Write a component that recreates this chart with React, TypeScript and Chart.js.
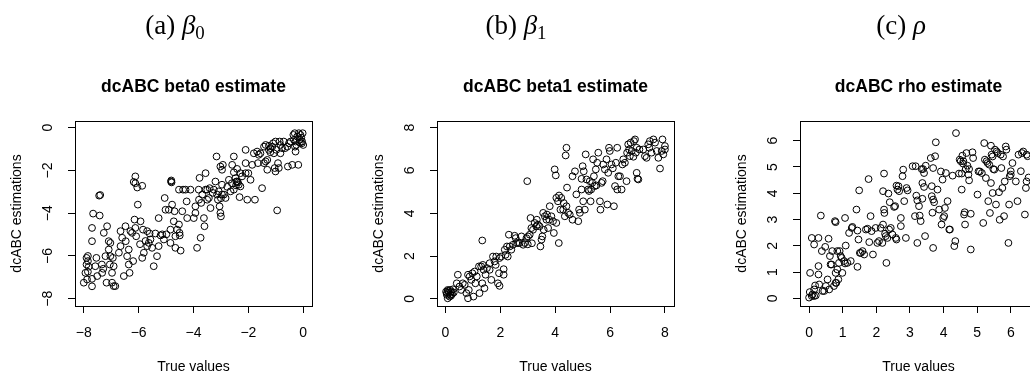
import React, { useEffect, useRef } from "react";
import { Chart, registerables } from "chart.js";

Chart.register(...registerables);

const SANS = "'Liberation Sans', Arial, Helvetica, sans-serif";
const SERIF = "'Liberation Serif', 'Times New Roman', serif";

// (true value, dcABC estimate) pairs for the intercept beta0
const beta0Points: [number, number][] = [
  [-8.0, -7.25], [-7.94, -6.79], [-7.9, -6.4], [-7.9, -6.09], [-7.85, -6.0], [-7.85, -6.24],
  [-7.82, -6.5], [-7.85, -6.74], [-7.88, -7.1], [-7.7, -7.07], [-7.7, -7.42], [-7.54, -6.09],
  [-7.58, -6.48], [-7.51, -6.94], [-7.7, -4.69], [-7.7, -5.31], [-7.66, -4.02], [-7.42, -4.11],
  [-7.44, -3.18], [-7.4, -3.15], [-7.34, -6.4], [-7.33, -6.79], [-7.29, -6.6], [-7.27, -4.92],
  [-7.21, -6.01], [-7.17, -7.25], [-7.15, -4.61], [-7.09, -5.31], [-7.09, -5.7], [-7.03, -5.39],
  [-7.05, -6.4], [-7.03, -6.01], [-6.97, -7.25], [-6.91, -7.41], [-6.85, -7.41], [-6.97, -6.79],
  [-6.91, -6.48], [-6.94, -6.09], [-6.72, -5.85], [-6.66, -5.54], [-6.66, -4.84], [-6.6, -5.15],
  [-6.54, -6.94], [-6.48, -4.61], [-6.47, -5.31], [-6.42, -6.01], [-6.36, -5.7], [-6.36, -6.4],
  [-6.33, -6.79], [-6.3, -4.84], [-6.24, -4.92], [-6.2, -6.24], [-6.12, -2.6], [-6.18, -2.54],
  [-6.12, -2.28], [-6.05, -2.8], [-6.15, -4.3], [-6.12, -4.69], [-6.09, -5.08], [-6.03, -3.6],
  [-5.93, -4.38], [-5.87, -2.72], [-5.95, -5.45], [-5.87, -6.09], [-5.81, -5.85], [-5.84, -4.77],
  [-5.75, -5.3], [-5.69, -5.54], [-5.69, -4.84], [-5.63, -5.39], [-5.57, -5.23], [-5.6, -4.95],
  [-5.51, -5.62], [-5.45, -6.48], [-5.39, -4.95], [-5.33, -6.01], [-5.27, -4.23], [-5.27, -5.54],
  [-5.2, -5.04], [-5.14, -4.99], [-5.08, -5.23], [-5.05, -3.29], [-5.02, -3.84], [-4.99, -4.99],
  [-4.9, -3.84], [-4.84, -4.77], [-4.84, -5.39], [-4.81, -2.47], [-4.82, -2.52], [-4.8, -2.56],
  [-4.78, -3.6], [-4.72, -4.38], [-4.69, -3.91], [-4.66, -5.08], [-4.66, -5.62], [-4.6, -4.77],
  [-4.53, -2.9], [-4.53, -4.53], [-4.51, -4.92], [-4.5, -5.04], [-4.47, -5.75], [-4.38, -2.9],
  [-4.41, -3.91], [-4.29, -2.9], [-4.25, -3.45], [-4.23, -4.23], [-4.11, -2.9], [-3.99, -4.23],
  [-3.93, -3.68], [-3.93, -3.99], [-3.87, -5.62], [-3.81, -2.9], [-3.8, -3.37], [-3.78, -2.35],
  [-3.74, -5.15], [-3.72, -3.52], [-3.68, -3.13], [-3.62, -4.23], [-3.6, -4.61], [-3.56, -2.13],
  [-3.56, -2.9], [-3.5, -2.9], [-3.5, -3.37], [-3.44, -3.29], [-3.41, -2.83], [-3.38, -3.76],
  [-3.26, -2.9], [-3.2, -2.52], [-3.16, -1.35], [-3.14, -3.13], [-3.11, -3.37], [-3.08, -2.98],
  [-3.05, -3.68], [-3.02, -1.82], [-3.02, -3.99], [-3.0, -4.15], [-2.96, -3.13], [-2.96, -1.97],
  [-2.93, -1.74], [-2.96, -2.67], [-2.89, -3.13], [-2.83, -3.29], [-2.77, -2.77], [-2.71, -2.44],
  [-2.65, -2.98], [-2.59, -1.74], [-2.53, -1.35], [-2.53, -2.09], [-2.53, -2.9], [-2.47, -2.36],
  [-2.44, -2.52], [-2.41, -1.93], [-2.41, -2.52], [-2.38, -2.56], [-2.35, -2.67], [-2.32, -3.25],
  [-2.29, -2.13], [-2.29, -2.75], [-2.23, -2.28], [-2.1, -1.66], [-2.1, -1.04], [-2.1, -2.13],
  [-2.04, -3.37], [-2.0, -2.13], [-1.92, -2.44], [-1.86, -1.74], [-1.8, -1.2], [-1.76, -3.37],
  [-1.68, -1.12], [-1.65, -1.66], [-1.62, -1.27], [-1.56, -1.2], [-1.5, -2.83], [-1.43, -0.89],
  [-1.43, -1.66], [-1.37, -0.81], [-1.37, -1.58], [-1.31, -1.51], [-1.31, -1.97], [-1.25, -1.04],
  [-1.25, -0.85], [-1.19, -0.96], [-1.13, -0.89], [-1.1, -0.73], [-1.07, -1.2], [-1.04, -1.89],
  [-1.01, -2.05], [-1.01, -0.65], [-0.98, -1.04], [-0.95, -3.87], [-0.92, -1.66], [-0.89, -1.89],
  [-0.86, -0.65], [-0.83, -0.81], [-0.83, -1.2], [-0.77, -0.96], [-0.71, -0.65], [-0.58, -0.89],
  [-0.56, -1.82], [-0.52, -0.73], [-0.46, -0.65], [-0.4, -1.74], [-0.36, -0.34], [-0.34, -0.57],
  [-0.31, -0.26], [-0.3, -0.89], [-0.28, -1.12], [-0.25, -0.81], [-0.22, -0.42], [-0.18, -1.74],
  [-0.16, -0.26], [-0.13, -0.57], [-0.1, -0.34], [-0.07, -0.47], [-0.05, -0.73], [-0.04, -0.65],
  [-0.02, -0.26], [0.0, -0.81], [-0.28, -0.65], [-0.66, -0.96], [-2.6, -2.6], [-2.45, -2.7],
  [-3.3, -3.05], [-3.0, -3.3], [-1.2, -1.15], [-0.12, -0.7],
];

// (true value, dcABC estimate) pairs for the slope beta1
const beta1Points: [number, number][] = [
  [0.02, 0.34], [0.05, 0.19], [0.08, 0.42], [0.12, 0.3], [0.15, 0.11], [0.17, 0.42], [0.21, 0.34],
  [0.24, 0.23], [0.08, 0.03], [0.27, 0.45], [0.05, 0.27], [0.18, 0.2], [0.45, 1.13], [0.41, 0.73],
  [0.51, 0.58], [0.57, 0.42], [0.63, 0.73], [0.7, 0.66], [0.76, 0.27], [0.82, 0.03], [0.85, 0.42],
  [0.82, 1.13], [0.88, 1.05], [0.94, 0.89], [0.98, 1.2], [1.02, 0.11], [1.06, 1.28], [1.09, 0.73],
  [1.14, 1.05], [1.22, 1.52], [1.24, 0.27], [1.3, 1.52], [1.34, 2.73], [1.34, 0.73], [1.36, 1.59],
  [1.39, 1.36], [1.42, 0.5], [1.46, 1.13], [1.51, 1.44], [1.61, 1.36], [1.61, 1.67], [1.67, 0.89],
  [1.73, 1.98], [1.79, 1.75], [1.83, 1.59], [1.85, 1.98], [1.91, 0.73], [1.95, 1.2], [1.97, 0.61],
  [1.97, 1.91], [2.03, 1.98], [2.12, 1.39], [2.12, 1.13], [2.16, 2.3], [2.19, 2.06], [2.24, 2.45],
  [2.27, 1.98], [2.31, 3.0], [2.34, 2.45], [2.4, 2.3], [2.46, 2.53], [2.52, 2.95], [2.56, 2.84],
  [2.58, 2.61], [2.64, 2.61], [2.7, 2.61], [2.77, 2.92], [2.83, 2.53], [2.89, 2.61], [2.95, 2.84],
  [2.98, 5.5], [3.01, 2.92], [3.07, 3.0], [3.1, 3.78], [3.13, 3.31], [3.19, 3.23], [3.25, 3.55],
  [3.31, 3.39], [3.33, 3.7], [3.37, 3.47], [3.43, 3.39], [3.46, 2.45], [3.5, 2.77], [3.53, 2.92],
  [3.56, 4.02], [3.58, 3.23], [3.62, 3.86], [3.68, 3.7], [3.7, 3.94], [3.74, 3.31], [3.78, 3.7],
  [3.8, 4.33], [3.86, 3.86], [3.92, 3.63], [3.95, 3.08], [3.98, 6.05], [4.02, 5.77], [4.04, 4.72],
  [4.04, 3.55], [4.1, 4.56], [4.14, 4.83], [4.13, 2.61], [4.19, 4.17], [4.22, 4.72], [4.29, 4.17],
  [4.31, 4.48], [4.35, 3.86], [4.38, 6.7], [4.41, 7.06], [4.41, 4.33], [4.43, 5.2], [4.47, 4.02],
  [4.53, 3.94], [4.63, 5.73], [4.63, 3.7], [4.72, 5.96], [4.77, 4.88], [4.84, 3.63], [4.87, 4.17],
  [4.9, 4.02], [4.96, 5.11], [4.96, 5.61], [5.0, 6.2], [5.02, 4.56], [5.04, 5.96], [5.08, 4.17],
  [5.11, 6.75], [5.14, 5.58], [5.2, 5.11], [5.23, 5.04], [5.26, 5.5], [5.29, 4.56], [5.31, 5.11],
  [5.35, 5.42], [5.38, 6.52], [5.41, 5.73], [5.44, 5.27], [5.48, 6.05], [5.53, 6.36], [5.57, 6.83],
  [5.63, 4.56], [5.65, 4.17], [5.69, 5.42], [5.73, 5.5], [5.75, 6.28], [5.81, 6.05], [5.87, 6.52],
  [5.9, 4.41], [5.93, 5.89], [5.96, 7.06], [5.99, 6.91], [6.05, 6.28], [6.14, 4.33], [6.18, 5.27],
  [6.21, 6.36], [6.26, 5.11], [6.26, 7.06], [6.3, 5.73], [6.36, 5.73], [6.42, 5.11], [6.45, 6.28],
  [6.48, 6.52], [6.54, 6.36], [6.6, 5.5], [6.62, 6.83], [6.66, 7.22], [6.69, 6.98], [6.72, 6.67],
  [6.75, 7.3], [6.79, 6.91], [6.85, 6.64], [6.87, 7.37], [6.91, 7.45], [6.94, 6.83], [6.97, 7.06],
  [6.97, 5.89], [7.0, 5.61], [7.03, 5.58], [7.07, 6.98], [7.21, 6.98], [7.27, 6.67], [7.33, 6.59],
  [7.39, 7.22], [7.43, 7.06], [7.45, 7.37], [7.51, 6.83], [7.58, 7.45], [7.64, 7.3], [7.7, 6.91],
  [7.76, 6.59], [7.82, 6.09], [7.88, 6.91], [7.91, 7.45], [7.94, 6.75], [8.0, 7.14], [8.0, 6.98],
  [0.1, 0.38], [0.2, 0.15], [0.3, 0.3], [3.0, 2.55], [3.15, 2.6], [5.5, 5.3], [6.1, 6.1],
];

// (true value, dcABC estimate) pairs for the correlation rho
const rhoPoints: [number, number][] = [
  [0.0, 0.03], [0.02, 0.24], [0.1, 0.15], [0.15, 0.34], [0.18, 0.49], [0.15, 0.09], [0.08, 0.09],
  [0.2, 0.11], [0.03, 0.97], [0.08, 2.3], [0.15, 2.05], [0.28, 2.3], [0.28, 1.23], [0.28, 0.91],
  [0.3, 0.53], [0.35, 3.15], [0.38, 1.8], [0.4, 0.28], [0.45, 0.28], [0.48, 1.96], [0.5, 0.47],
  [0.55, 0.72], [0.6, 0.34], [0.58, 2.27], [0.62, 1.61], [0.64, 1.29], [0.67, 1.29], [0.69, 1.8],
  [0.74, 0.47], [0.77, 2.94], [0.79, 2.9], [0.79, 0.97], [0.79, 0.59], [0.81, 0.59], [0.84, 1.8],
  [0.84, 1.1], [0.87, 0.72], [0.89, 1.35], [0.91, 1.8], [0.94, 1.61], [0.97, 1.54], [0.99, 0.97],
  [1.04, 1.42], [1.07, 3.06], [1.09, 2.01], [1.07, 1.33], [1.14, 1.35], [1.19, 2.49], [1.24, 1.42],
  [1.27, 2.68], [1.29, 2.72], [1.41, 3.38], [1.44, 2.58], [1.47, 2.24], [1.44, 1.2], [1.49, 4.11],
  [1.51, 1.73], [1.54, 1.73], [1.59, 1.8], [1.64, 1.67], [1.69, 2.62], [1.74, 2.65], [1.77, 4.54],
  [1.79, 2.14], [1.83, 3.13], [1.86, 2.56], [1.9, 1.67], [1.98, 2.68], [2.03, 2.11], [2.08, 2.18],
  [2.13, 2.68], [2.18, 2.11], [2.2, 2.81], [2.23, 4.75], [2.2, 4.08], [2.23, 3.38], [2.24, 3.25],
  [2.26, 2.46], [2.28, 2.37], [2.3, 1.35], [2.33, 2.3], [2.36, 3.99], [2.38, 2.62], [2.4, 3.66],
  [2.43, 2.68], [2.48, 2.43], [2.53, 3.48], [2.56, 3.51], [2.58, 2.3], [2.6, 2.24], [2.6, 4.29],
  [2.63, 4.14], [2.66, 4.27], [2.68, 4.08], [2.73, 3.06], [2.73, 2.75], [2.78, 4.65], [2.8, 4.9],
  [2.83, 3.7], [2.88, 2.3], [2.9, 4.2], [2.93, 4.11], [3.08, 5.03], [3.15, 3.13], [3.17, 5.03],
  [3.19, 3.91], [3.22, 3.73], [3.22, 2.11], [3.27, 3.51], [3.29, 3.15], [3.32, 2.94], [3.35, 4.92],
  [3.37, 3.79], [3.37, 4.39], [3.39, 4.92], [3.42, 4.24], [3.42, 4.77], [3.45, 2.37], [3.47, 5.05],
  [3.62, 5.34], [3.65, 4.27], [3.67, 3.26], [3.65, 3.89], [3.69, 3.76], [3.69, 4.96], [3.69, 1.92],
  [3.72, 3.66], [3.75, 5.41], [3.77, 5.94], [3.82, 4.14], [3.87, 3.38], [3.92, 4.83], [3.94, 2.81],
  [3.97, 4.52], [3.99, 3.06], [4.02, 3.13], [4.04, 3.44], [4.07, 4.77], [4.12, 3.7], [4.17, 2.62],
  [4.19, 2.62], [4.27, 4.67], [4.32, 1.99], [4.35, 2.18], [4.37, 6.29], [4.46, 4.75], [4.48, 5.28],
  [4.51, 5.22], [4.54, 4.14], [4.54, 4.75], [4.56, 5.43], [4.58, 5.13], [4.59, 5.22], [4.61, 3.19],
  [4.63, 3.28], [4.64, 2.81], [4.66, 4.92], [4.68, 5.53], [4.71, 5.05], [4.74, 4.71], [4.76, 4.92],
  [4.76, 4.49], [4.81, 3.22], [4.81, 1.86], [4.86, 5.56], [4.88, 5.34], [5.01, 3.95], [5.04, 4.83],
  [5.08, 4.83], [5.14, 4.77], [5.18, 2.87], [5.21, 5.91], [5.23, 5.28], [5.26, 4.58], [5.28, 5.22],
  [5.31, 5.15], [5.33, 3.7], [5.36, 5.09], [5.38, 3.25], [5.41, 4.39], [5.41, 5.81], [5.43, 5.47],
  [5.46, 4.01], [5.46, 5.4], [5.48, 4.92], [5.51, 4.9], [5.53, 5.66], [5.56, 3.57], [5.58, 5.59],
  [5.61, 5.53], [5.65, 4.04], [5.67, 2.99], [5.7, 5.47], [5.72, 4.96], [5.75, 4.2], [5.77, 5.4],
  [5.8, 3.13], [5.82, 4.45], [5.85, 5.78], [5.87, 5.66], [5.93, 2.11], [5.95, 3.57], [5.97, 4.65],
  [6.0, 4.71], [6.0, 4.84], [6.05, 5.15], [6.15, 4.45], [6.2, 3.7], [6.23, 5.47], [6.3, 4.84],
  [6.33, 5.53], [6.37, 5.59], [6.42, 3.19], [6.45, 4.2], [6.47, 5.47], [6.47, 4.45], [6.5, 5.41],
  [6.53, 4.6],
];

// Tick values of each panel
const beta0XTicks = [-8, -6, -4, -2, 0];
const beta0YTicks = [-8, -6, -4, -2, 0];
const beta1XTicks = [0, 2, 4, 6, 8];
const beta1YTicks = [0, 2, 4, 6, 8];
const rhoXTicks = [0, 1, 2, 3, 4, 5, 6, 7];
const rhoYTicks = [0, 1, 2, 3, 4, 5, 6];

const CANVAS_W = 387;
const CANVAS_H = 378;
const AXIS_W = 75; // room left of the plot box for the y axis (mirrored on the right)
const AXIS_H = 72; // room below the plot box for the x axis

type PanelSpec = {
  title: string;
  points: [number, number][];
  xTicks: number[];
  yTicks: number[];
  xRange: [number, number];
  yRange: [number, number];
  plotLeft: number;
  yTickPad: number;
};

const panels: PanelSpec[] = [
  {
    title: "dcABC beta0 estimate",
    points: beta0Points,
    xTicks: beta0XTicks,
    yTicks: beta0YTicks,
    xRange: [-8.32, 0.32],
    yRange: [-8.34, 0.31],
    plotLeft: 75,
    yTickPad: 12,
  },
  {
    title: "dcABC beta1 estimate",
    points: beta1Points,
    xTicks: beta1XTicks,
    yTicks: beta1YTicks,
    xRange: [-0.31, 8.33],
    yRange: [-0.33, 8.31],
    plotLeft: 437,
    yTickPad: 16,
  },
  {
    title: "dcABC rho estimate",
    points: rhoPoints,
    xTicks: rhoXTicks,
    yTicks: rhoYTicks,
    xRange: [-0.27, 6.78],
    yRange: [-0.29, 6.75],
    plotLeft: 800,
    yTickPad: 16,
  },
];

const fmtTick = (v: number | string) => String(v).replace("-", "\u2212");

// Frame drawn around the plotting region, as in base R graphics
const plotBox = {
  id: "plotBox",
  afterDatasetsDraw(chart: Chart) {
    const { ctx, chartArea } = chart;
    const l = Math.round(chartArea.left) + 0.5;
    const t = Math.round(chartArea.top) + 0.5;
    const w = Math.round(chartArea.right) - Math.round(chartArea.left);
    const h = Math.round(chartArea.bottom) - Math.round(chartArea.top);
    ctx.save();
    ctx.strokeStyle = "#000";
    ctx.lineWidth = 1;
    ctx.strokeRect(l, t, w, h);
    ctx.restore();
  },
};

function ScatterPanel({ spec }: { spec: PanelSpec }) {
  const ref = useRef<HTMLCanvasElement | null>(null);

  useEffect(() => {
    if (!ref.current) return;
    const tickFont = { family: SANS, size: 14 };
    const grid = {
      display: true,
      drawOnChartArea: false,
      drawTicks: true,
      tickLength: 7,
      color: "#000",
      lineWidth: 1,
    };
    const chart = new Chart(ref.current, {
      type: "scatter",
      data: {
        datasets: [
          {
            data: spec.points.map(([x, y]) => ({ x, y })),
            pointStyle: "circle",
            pointRadius: 3.4,
            pointBorderWidth: 1,
            pointBorderColor: "#000",
            pointBackgroundColor: "rgba(0,0,0,0)",
            showLine: false,
          },
        ],
      },
      options: {
        animation: false,
        responsive: false,
        events: [],
        layout: { padding: 0 },
        plugins: {
          legend: { display: false },
          tooltip: { enabled: false },
          title: {
            display: true,
            text: spec.title,
            color: "#000",
            font: { family: SANS, size: 17.5, weight: "bold", lineHeight: 1.2 },
            padding: { top: 76.5, bottom: 23.5 },
          },
        },
        scales: {
          x: {
            type: "linear",
            position: "bottom",
            min: spec.xRange[0],
            max: spec.xRange[1],
            afterBuildTicks: (s: any) => {
              s.ticks = spec.xTicks.map((value) => ({ value }));
            },
            afterFit: (s: any) => {
              s.height = AXIS_H;
            },
            grid,
            border: { display: false },
            ticks: {
              color: "#000",
              font: tickFont,
              padding: 12,
              autoSkip: false,
              maxRotation: 0,
              minRotation: 0,
              callback: (v: any) => fmtTick(v),
            },
            title: {
              display: true,
              text: "True values",
              color: "#000",
              font: { family: SANS, size: 14, lineHeight: 1.2 },
              padding: { top: 0, bottom: 2.6 },
            },
          },
          y: {
            type: "linear",
            position: "left",
            min: spec.yRange[0],
            max: spec.yRange[1],
            afterBuildTicks: (s: any) => {
              s.ticks = spec.yTicks.map((value) => ({ value }));
            },
            afterFit: (s: any) => {
              s.width = AXIS_W;
            },
            grid,
            border: { display: false },
            ticks: {
              color: "#000",
              font: tickFont,
              padding: spec.yTickPad,
              autoSkip: false,
              minRotation: 90,
              maxRotation: 90,
              crossAlign: "center",
              callback: (v: any) => fmtTick(v),
            },
            title: {
              display: true,
              text: "dcABC estimations",
              color: "#000",
              font: { family: SANS, size: 14, lineHeight: 1.2 },
              padding: { top: 8.6, bottom: 0 },
            },
          },
          // empty right-hand margin, so the panel title centres over the plot box
          margin: {
            type: "linear",
            position: "right",
            display: true,
            grid: { display: false },
            border: { display: false },
            ticks: { display: false },
            afterFit: (s: any) => {
              s.width = AXIS_W;
            },
          },
        },
      } as any,
      plugins: [plotBox],
    });
    return () => chart.destroy();
  }, [spec]);

  return (
    <canvas
      ref={ref}
      width={CANVAS_W}
      height={CANVAS_H}
      style={{
        position: "absolute",
        left: spec.plotLeft - AXIS_W,
        top: 0,
        width: CANVAS_W,
        height: CANVAS_H,
      }}
    />
  );
}

const captionStyle = (centerX: number): React.CSSProperties => ({
  position: "absolute",
  left: centerX,
  top: 10,
  transform: "translateX(-50%)",
  fontFamily: SERIF,
  fontSize: 27,
  lineHeight: "30px",
  whiteSpace: "nowrap",
  color: "#000",
});

const subStyle: React.CSSProperties = {
  fontSize: "0.7em",
  verticalAlign: "-0.25em",
  lineHeight: 0,
};

export default function App() {
  return (
    <div
      style={{
        position: "fixed",
        left: 0,
        top: 0,
        width: 1030,
        height: 378,
        overflow: "hidden",
        background: "#fff",
      }}
    >
      {panels.map((p) => (
        <ScatterPanel key={p.title} spec={p} />
      ))}
      <div style={captionStyle(175)}>
        (a)&nbsp;<i>β</i>
        <span style={subStyle}>0</span>
      </div>
      <div style={captionStyle(516)}>
        (b)&nbsp;<i>β</i>
        <span style={subStyle}>1</span>
      </div>
      <div style={captionStyle(901)}>
        (c)&nbsp;<i>ρ</i>
      </div>
    </div>
  );
}
